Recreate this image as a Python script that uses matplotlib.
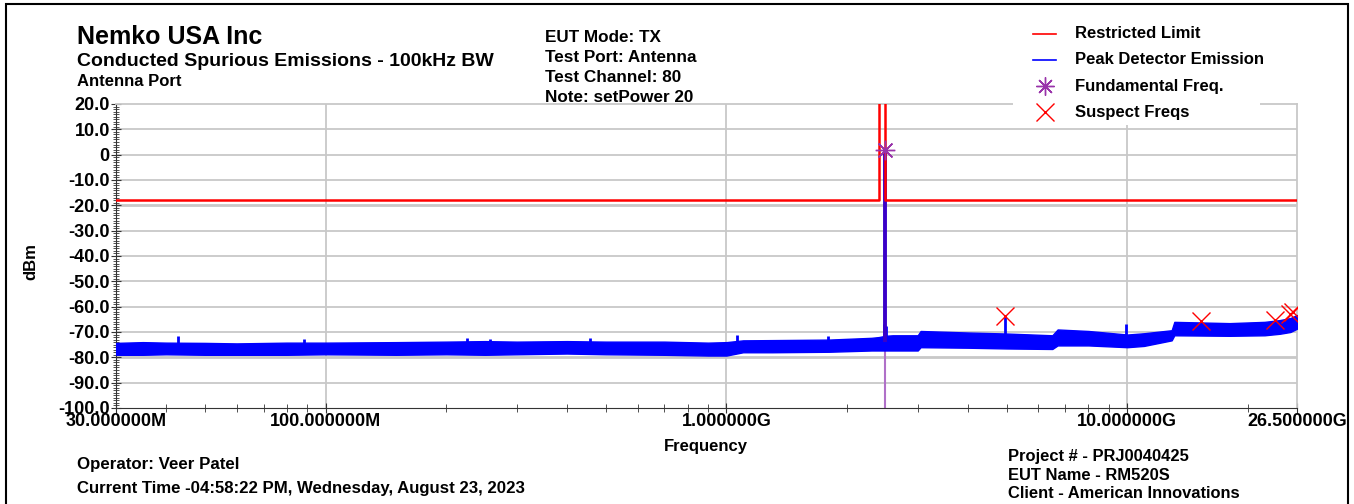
import numpy as np
import matplotlib
matplotlib.use('Agg')
import matplotlib.pyplot as plt
from matplotlib.patches import Rectangle
from matplotlib.ticker import FixedLocator, NullFormatter

plt.rcParams['font.family'] = ['Liberation Sans', 'DejaVu Sans']
plt.rcParams['font.weight'] = 'bold'

# Restricted limit (MHz, dBm)
limit_freq = [30, 2400, 2400, 2483.5, 2483.5, 26500]
limit_dbm = [-18, -18, 40, 40, -18, -18]

trace_freq = [30, 35, 40, 50, 60, 80, 100, 150, 200, 250, 300, 400, 500, 700,
              900, 1000, 1100, 1300, 1800, 2300, 2400, 2490, 2600, 3000, 3050,
              4000, 5000, 6500, 6700, 8000, 10000, 11000, 12900, 13100, 18000,
              22000, 24000, 25500, 26500]
trace_low = [-79, -79, -78.8, -79, -79, -79, -78.8, -79, -78.8, -79, -78.8,
             -78.5, -78.8, -79, -79.3, -79.3, -78, -78, -77.8, -77.3, -77.3,
             -77.3, -77.3, -77.3, -76, -76.2, -76.5, -76.7, -75.3, -75.3, -76,
             -75.5, -73.3, -71.3, -71.5, -71.3, -70.7, -70, -68.7]
trace_high = [-74.3, -74, -74.2, -74.3, -74.5, -74.2, -74.2, -74, -73.8,
              -73.6, -73.8, -73.6, -73.8, -73.8, -74.2, -74, -73.3, -73.2, -73,
              -72.3, -72, -71.5, -71.3, -71.3, -69.6, -70.2, -70.6, -71.3, -69,
              -69.6, -71, -70.5, -69.3, -66, -66.5, -66, -65.3, -64.5, -63.3]

# Narrow spikes above the floor (MHz, base dBm, peak dBm)
spike_freq = [42.8, 88.3, 225, 257, 456, 1060, 1790, 2470, 2495, 4960, 9910]
spike_base = [-75, -75, -75, -75, -75, -74, -74, -73, -73, -73, -72]
spike_peak = [-71.7, -72.7, -72.4, -72.7, -72.3, -71.3, -71.7, -67, -67.5,
              -64, -67]

# Fundamental
fund_freq = 2480
fund_dbm = 1.8

# Suspect frequencies
suspect_freq = [4960, 15300, 23400, 25400, 25900]
suspect_dbm = [-63.7, -65.7, -65.3, -63.0, -62.2]

W, H = 1354, 504
fig = plt.figure(figsize=(W / 100, H / 100), dpi=100)

def px(x, y):
    return x / W, 1 - y / H

ax = fig.add_axes([116 / W, 1 - 408 / H, (1297 - 116) / W, (408 - 104) / H])
ax.set_xscale('log')
ax.set_xlim(30e6, 26.5e9)
ax.set_ylim(-100, 20)

grid_c = '#c8c8c8'
for v in [100e6, 1e9, 10e9]:
    ax.axvline(v, color=grid_c, lw=1.3, zorder=1)
for v in range(-90, 20, 10):
    ax.axhline(v, color=grid_c, lw=2 if v in (-20, -80) else 1.3, zorder=1)

hz = 1e6
ax.fill_between(np.array(trace_freq) * hz, trace_low, trace_high,
                color='#0000ff', lw=1, zorder=3)
ax.vlines(np.array(spike_freq) * hz, spike_base, spike_peak,
          color='#0000ff', lw=2, zorder=3)
ax.vlines(fund_freq * hz, -100, fund_dbm, color='#b070c8', lw=1.5, zorder=2)
ax.vlines(fund_freq * hz, -74, fund_dbm, color='#3a00c8', lw=2.8, zorder=4)
ax.plot(np.array(limit_freq) * hz, limit_dbm, color='#ff0000', lw=1.8, zorder=5)
ax.plot(fund_freq * hz, fund_dbm, marker=(8, 2, 0), ms=14, mec='#9933aa',
        mew=1, ls='none', zorder=6)
ax.plot(np.array(suspect_freq) * hz, suspect_dbm, marker='x', ms=13,
        mec='#ff0000', mew=1, ls='none', zorder=6)

# axes styling
for s in ['top', 'right']:
    ax.spines[s].set_color(grid_c)
    ax.spines[s].set_linewidth(1.3)
ax.spines['left'].set_color('#333333')
ax.spines['bottom'].set_color('#333333')

ax.xaxis.set_major_locator(FixedLocator([30e6, 100e6, 1e9, 10e9, 26.5e9]))
ax.set_xticklabels(['30.000000M', '100.000000M', '1.000000G', '10.000000G',
                    '26.500000G'])
minor_x = [m * d for d in (1e7, 1e8, 1e9) for m in range(2, 10)] + [20e9]
ax.xaxis.set_minor_locator(FixedLocator([v for v in minor_x if v > 30e6]))
ax.xaxis.set_minor_formatter(NullFormatter())
ax.set_yticks(range(-100, 21, 10))
ax.set_yticklabels(['-100.0', '-90.0', '-80.0', '-70.0', '-60.0', '-50.0',
                    '-40.0', '-30.0', '-20.0', '-10.0', '0', '10.0', '20.0'])
ax.set_yticks(range(-100, 21, 1), minor=True)
ax.tick_params(axis='both', which='both', direction='inout', color='#333333',
               labelsize=13)
ax.tick_params(axis='y', which='major', length=7, pad=1)
ax.tick_params(axis='y', which='minor', length=5)
ax.tick_params(axis='x', which='major', length=7, pad=0)
ax.tick_params(axis='x', which='minor', length=6)
for lab in ax.get_xticklabels() + ax.get_yticklabels():
    lab.set_fontweight('bold')

ax.set_ylabel('dBm', fontsize=12, fontweight='bold')
ax.yaxis.set_label_coords(*px(38, 262), transform=fig.transFigure)
fig.text(*px(706, 446), 'Frequency', fontsize=12, ha='center', va='center')

# header text
fig.text(*px(77, 37), 'Nemko USA Inc', fontsize=18, ha='left', va='center')
fig.text(*px(77, 61), 'Conducted Spurious Emissions - 100kHz BW', fontsize=14,
         ha='left', va='center')
fig.text(*px(77, 81), 'Antenna Port', fontsize=12, ha='left', va='center')
for i, t in enumerate(['EUT Mode: TX', 'Test Port: Antenna', 'Test Channel: 80',
                       'Note: setPower 20']):
    fig.text(*px(545, 37 + i * 20.3), t, fontsize=12.3, ha='left', va='center')

# footer text
fig.text(*px(77, 464), 'Operator: Veer Patel', fontsize=12.2, ha='left',
         va='center')
fig.text(*px(77, 488), 'Current Time -04:58:22 PM, Wednesday, August 23, 2023',
         fontsize=12.1, ha='left', va='center')
for i, t in enumerate(['Project # - PRJ0040425', 'EUT Name - RM520S',
                       'Client - American Innovations']):
    fig.text(*px(1008, 457 + i * 18.5), t, fontsize=11.9, ha='left',
             va='center')

# legend block
fig.patches.append(Rectangle(px(1013, 125), (1260 - 1013) / W, 115 / H,
                             transform=fig.transFigure, facecolor='white',
                             edgecolor='none', zorder=10))
leg_items = ['Restricted Limit', 'Peak Detector Emission', 'Fundamental Freq.',
             'Suspect Freqs']
for i, t in enumerate(leg_items):
    yy = 34 + i * 26
    if i < 2:
        fig.add_artist(plt.Line2D([1033 / W, 1056 / W], [px(0, yy)[1]] * 2,
                                  color='#ff0000' if i == 0 else '#0000ff',
                                  lw=1.2, zorder=11))
    else:
        fig.add_artist(plt.Line2D([1045 / W], [px(0, yy)[1]],
                                  marker=(8, 2, 0) if i == 2 else 'x',
                                  ms=13, mec='#9933aa' if i == 2 else '#ff0000',
                                  mew=1, ls='none', zorder=11))
    fig.text(*px(1075, yy), t, fontsize=12, ha='left', va='center', zorder=11)

# outer frame
fig.patches.append(Rectangle(px(6, 520), (1348 - 6) / W, 516 / H,
                             transform=fig.transFigure, facecolor='none',
                             edgecolor='black', lw=1.5, zorder=12))

fig.savefig('out.png', dpi=100)
